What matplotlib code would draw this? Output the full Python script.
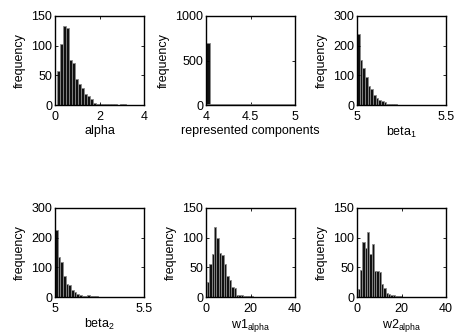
import numpy as np
import matplotlib
matplotlib.use("Agg")
from matplotlib import pyplot as plt

plt.rcParams['font.family'] = ['Liberation Sans', 'DejaVu Sans']
plt.rcParams['font.size'] = 9

# histogram counts, one list per panel
alpha_counts = [58, 102, 133, 129, 76, 70, 43, 36, 28, 19, 15, 10, 3, 2, 2, 1, 2, 1, 1, 1, 0, 1, 1]
comp_counts = [700]
beta1_counts = [241, 152, 124, 94, 65, 54, 35, 23, 18, 12, 9, 4, 3, 2, 2, 1, 1, 1, 0, 1]
beta2_counts = [227, 136, 117, 72, 44, 42, 24, 16, 10, 6, 4, 5, 6, 3, 2, 2, 1, 1, 1]
w1_counts = [25, 55, 73, 118, 100, 74, 70, 55, 35, 28, 17, 15, 4, 3, 4, 2, 1, 1, 1]
w2_counts = [14, 46, 92, 83, 110, 72, 89, 44, 43, 42, 22, 15, 7, 5, 3, 3, 1, 1, 1]

# (first bin edge, bin width)
alpha_bins = (0.1, 0.135)
comp_bins = (4.0, 0.045)
beta1_bins = (5.0, 0.015)
beta2_bins = (5.0, 0.015)
w1_bins = (0.3, 1.1)
w2_bins = (0.3, 1.05)

x_labels = ['alpha', 'represented components', r'beta$_\mathregular{1}$',
            r'beta$_\mathregular{2}$', r'w1$_\mathregular{alpha}$', r'w2$_\mathregular{alpha}$']
x_limits = [(0, 4), (4, 5), (5, 5.5), (5, 5.5), (0, 40), (0, 40)]
x_ticks = [[0, 2, 4], [4, 4.5, 5], [5, 5.5], [5, 5.5], [0, 20, 40], [0, 20, 40]]
x_tick_labels = [['0', '2', '4'], ['4', '4.5', '5'], ['5', '5.5'], ['5', '5.5'],
                 ['0', '20', '40'], ['0', '20', '40']]
y_limits = [(0, 150), (0, 1000), (0, 300), (0, 300), (0, 150), (0, 150)]
y_ticks = [[0, 50, 100, 150], [0, 500, 1000], [0, 100, 200, 300], [0, 100, 200, 300],
           [0, 50, 100, 150], [0, 50, 100, 150]]

panels = [
    (alpha_counts, alpha_bins),
    (comp_counts, comp_bins),
    (beta1_counts, beta1_bins),
    (beta2_counts, beta2_bins),
    (w1_counts, w1_bins),
    (w2_counts, w2_bins),
]

fig = plt.figure(figsize=(4.54, 3.34), dpi=100)
lefts = [55 / 454, 206 / 454, 357 / 454]
bottoms = [1 - 105 / 334, 1 - 297 / 334]
w, h = 89 / 454, 89 / 334

for i, (counts, (start, width)) in enumerate(panels):
    ax = fig.add_axes([lefts[i % 3], bottoms[i // 3], w, h])
    lefts_of_bars = start + width * np.arange(len(counts))
    ax.bar(lefts_of_bars, counts, width=width, align='edge',
           facecolor='#111111', edgecolor='#8a8a8a', linewidth=0.6)
    if i == 1:
        ax.plot([4, 5], [0, 0], color='#888888', linewidth=1.2)
    ax.set_xlim(*x_limits[i])
    ax.set_ylim(*y_limits[i])
    ax.set_xticks(x_ticks[i])
    ax.set_xticklabels(x_tick_labels[i])
    ax.set_yticks(y_ticks[i])
    ax.set_xlabel(x_labels[i], labelpad=1.5)
    ax.set_ylabel('frequency', labelpad=4)
    ax.tick_params(direction='in', length=2.5, width=0.6, top=True, right=True)
    ax.tick_params(axis='x', pad=4)
    ax.tick_params(axis='y', pad=2)
    for s in ax.spines.values():
        s.set_linewidth(1.0)

plt.savefig('out.png', dpi=100)
plt.close()
